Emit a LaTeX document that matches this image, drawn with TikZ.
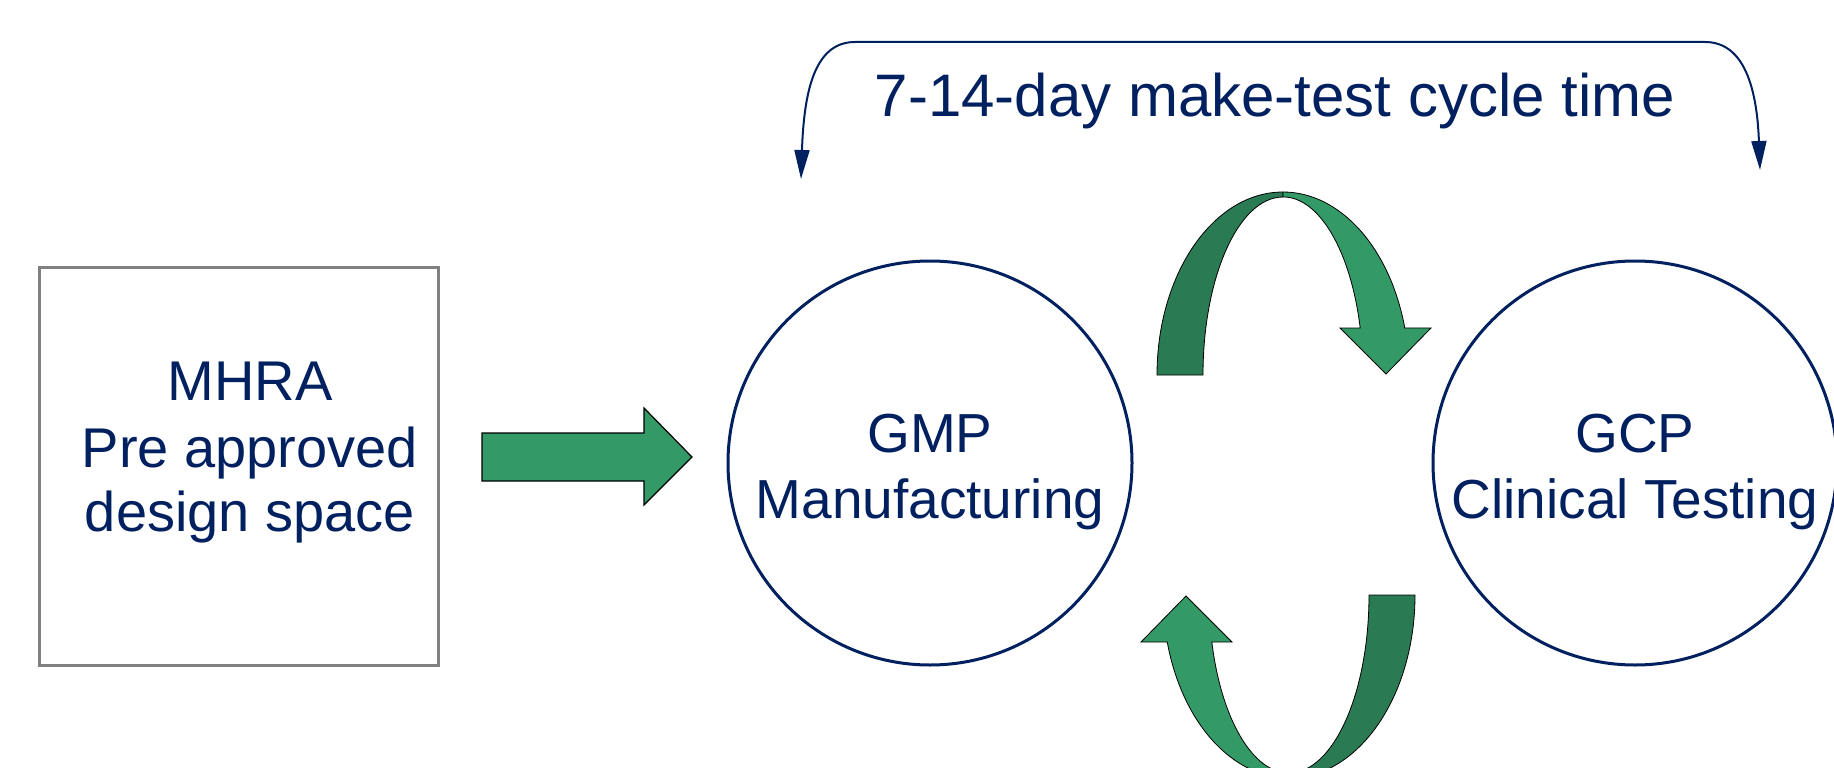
\documentclass[tikz,border=0pt]{standalone}
\usepackage{fontspec}
\setmainfont{Liberation Sans}
\usetikzlibrary{arrows.meta}
\definecolor{navy}{HTML}{002060}
\definecolor{bandlight}{HTML}{339966}
\definecolor{banddark}{HTML}{2A7B53}
\definecolor{framegray}{HTML}{808080}
\tikzset{
  stage/.style={circle, draw=navy, line width=3pt, minimum size=404pt, inner sep=0pt},
  boxframe/.style={draw=framegray, line width=3pt, minimum width=399pt, minimum height=398pt, inner sep=0pt},
  txt/.style={text=navy, anchor=base, inner sep=0pt, font=\fontsize{55}{66}\selectfont},
  boxtxt/.style={txt, font=\fontsize{56}{66}\selectfont},
  titletxt/.style={txt, font=\fontsize{60}{72}\selectfont},
  fatarrow/.style={fill=bandlight, draw=black, line width=1.2pt, line join=miter},
  bandback/.style={fill=banddark, draw=black, line width=0.8pt},
  bandfront/.style={fill=bandlight, draw=black, line width=0.8pt, line join=miter},
  looparrow/.style={draw=navy, line width=2pt,
    {Triangle[length=29pt,width=15pt]}-{Triangle[length=29pt,width=15pt]}},
}
% half-turn band arrow, origin at the centre of its ellipses (y grows downwards)
\newcommand\turnarrow{%
  \path[bandback] (-126,0) arc[start angle=180, end angle=270, x radius=126, y radius=183]
    -- (0,-178) arc[start angle=270, end angle=180, x radius=80, y radius=178] -- cycle;
  \path[bandfront] (0,-183) arc[start angle=270, end angle=345.1, x radius=126, y radius=183]
    -- (148,-47) -- (103,-1) -- (57,-47) -- (77.2,-47)
    arc[start angle=344.7, end angle=270, x radius=80, y radius=178] -- cycle;
}
\begin{document}
\begin{tikzpicture}[x=1pt, y=1pt, yscale=-1]
  \useasboundingbox (0,0) rectangle (1834,768);
  \fill[white] (0,0) rectangle (1834,768);
  \clip (0,0) rectangle (1834,768);

  % regulatory box
  \node[boxframe] (mhra) at (238.5,466) {};
  \node[boxtxt] (mhraa) at (250,400) {MHRA};
  \node[boxtxt] (mhrab) at (250,467) {Pre approved};
  \node[boxtxt] (mhrac) at (250,531) {design space};

  % the two stages
  \node[stage] (gmp) at (930,463) {};
  \node[txt] (gmpa) at (930,452) {GMP};
  \node[txt] (gmpb) at (930,518) {Manufacturing};

  \node[stage] (gcp) at (1635,463) {};
  \node[txt] (gcpa) at (1635,452) {GCP};
  \node[txt] (gcpb) at (1635,518) {Clinical Testing};

  % block arrow into manufacturing
  \path[fatarrow] (482,433) -- (644,433) -- (644,408) -- (692,457)
    -- (644,505) -- (644,481) -- (482,481) -- cycle;

  % make/test turn arrows
  \begin{scope}[shift={(1283,375)}]
    \turnarrow
  \end{scope}
  \begin{scope}[shift={(1289,595)}, rotate=180]
    \turnarrow
  \end{scope}

  % cycle time bracket
  \coordinate (lefttip) at (801,179);
  \coordinate (righttip) at (1760,170);
  \draw[looparrow] (lefttip) .. controls (804,90) and (815,42) .. (855,42)
    -- (1705,42) .. controls (1745,42) and (1757,90) .. (righttip);
  \node[titletxt] (cycletime) at (1275,117) {7-14-day make-test cycle time};
\end{tikzpicture}
\end{document}
